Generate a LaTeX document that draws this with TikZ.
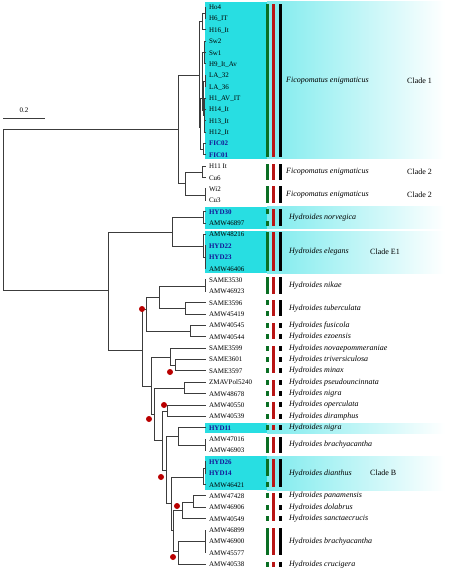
\documentclass[tikz,border=0pt]{standalone}
\usepackage{fontspec}
\setmainfont{Liberation Serif}
\usepackage{tikz}

\definecolor{hlcyan}{RGB}{40,222,226}
\definecolor{ourblue}{RGB}{20,20,150}
\definecolor{treegray}{RGB}{60,60,60}
\definecolor{trgreen}{RGB}{10,110,35}
\definecolor{trred}{RGB}{185,20,20}
\definecolor{dotred}{RGB}{185,0,0}

\newcommand{\ours}[1]{\textbf{\color{ourblue}#1}}
% trait bar: colour, x, first tip, last tip
\newcommand{\trait}[4]{\fill[#1] ({#2-1.5},{7+11.37*#3-2.5}) rectangle ({#2+1.5},{7+11.37*#4+2.5});}
% highlight band: top, bottom
\newcommand{\hlbox}[2]{\fill[hlcyan] (205,#1) rectangle (267,#2);
  \shade[left color=hlcyan!60, right color=white] (267,#1) rectangle (445,#2);}

\begin{document}
\begin{tikzpicture}[x=1pt, y=-1pt,
    branch/.style={treegray, line width=0.9pt},
    tiplab/.style={anchor=west, inner xsep=3pt, inner ysep=0pt, outer sep=0pt,
      text height=1.4ex, text depth=0.3ex, font=\fontsize{7}{8}\selectfont},
    spec/.style={anchor=west, inner sep=0pt, font=\fontsize{8}{9.6}\selectfont\itshape},
    cladelab/.style={anchor=west, inner sep=0pt, font=\fontsize{8}{9.6}\selectfont},
    sigdot/.style={circle, fill=dotred, inner sep=0pt, minimum size=6pt}]
  \useasboundingbox (0,0) rectangle (450,572);

  % Highlights
  \hlbox{2}{159}
  \hlbox{206.5}{228.5}
  \hlbox{231}{273}
  \hlbox{423}{433}
  \hlbox{456}{490}

  % Tips
  \foreach \lab [count=\i from 0] in {Ho4, H6\_IT, H16\_It, Sw2, Sw1, H9\_It\_Av,
      LA\_32, LA\_36, H1\_AV\_IT, H14\_It, H13\_It, H12\_It, \ours{FIC02}, \ours{FIC01},
      H11 It, Cu6, Wi2, Cu3, \ours{HYD30}, AMW46897, AMW48216, \ours{HYD22}, \ours{HYD23},
      AMW46406, SAME3530, AMW46923, SAME3596, AMW45419, AMW40545, AMW40544, SAME3599,
      SAME3601, SAME3597, ZMAVPol5240, AMW48678, AMW40550, AMW40539, \ours{HYD11},
      AMW47016, AMW46903, \ours{HYD26}, \ours{HYD14}, AMW46421, AMW47428, AMW46906,
      AMW40549, AMW46899, AMW46900, AMW45577, AMW40538}
    \node[tiplab] (t\i) at (206,{7+11.37*\i}) {\lab};

  % Inner nodes
  \coordinate (root) at (3,210);
  \coordinate (fico) at (178,129);
  \coordinate (c1) at (199,75);
  \coordinate (na) at (202,21);
  \coordinate (nab) at (205,13);
  \coordinate (nb) at (200,127);
  \coordinate (nc) at (202,98);
  \coordinate (nd) at (204,52);
  \coordinate (ne) at (203,110);
  \coordinate (nf) at (205,81);
  \coordinate (ng) at (204,115);
  \coordinate (fic) at (203,149);
  \coordinate (f2) at (185,183);
  \coordinate (f2a) at (202,172);
  \coordinate (f2b) at (205,195);
  \coordinate (hyd) at (108,290);
  \coordinate (nE) at (172,232);
  \coordinate (nor) at (203,217);
  \coordinate (el) at (203,246);
  \coordinate (elb) at (205,257);
  \coordinate (h1) at (142,350);
  \coordinate (ha) at (146,309);
  \coordinate (ha1) at (159,297);
  \coordinate (nik) at (205,286);
  \coordinate (tub) at (185,308);
  \coordinate (fe) at (190,331);
  \coordinate (hb) at (151,386);
  \coordinate (mi) at (170,357);
  \coordinate (mi2) at (175,365);
  \coordinate (hc) at (154,414);
  \coordinate (pn) at (184,388);
  \coordinate (hd) at (162,440);
  \coordinate (od) at (167,411);
  \coordinate (he) at (166,470);
  \coordinate (bra) at (178,436);
  \coordinate (bra2) at (205,445);
  \coordinate (hf) at (171,503);
  \coordinate (dia) at (203,477);
  \coordinate (dia2) at (205,468);
  \coordinate (hg) at (173,530);
  \coordinate (pds) at (182,510);
  \coordinate (pd) at (193,502);
  \coordinate (cr) at (178,551);
  \coordinate (br3) at (205,541);

  % Branches
  \foreach \p/\c in {root/fico, root/hyd, fico/c1, fico/f2, c1/na, c1/nb, na/nab, na/t2,
      nab/t0, nab/t1, nb/nc, nb/fic, nc/nd, nc/ne, nd/t3, nd/t4, nd/t5, ne/nf, ne/ng,
      nf/t6, nf/t7, ng/t8, ng/t9, ng/t10, ng/t11, fic/t12, fic/t13, f2/f2a, f2/f2b,
      f2a/t14, f2a/t15, f2b/t16, f2b/t17, hyd/nE, hyd/h1, nE/nor, nE/el, nor/t18, nor/t19,
      el/t20, el/elb, elb/t21, elb/t22, elb/t23, h1/ha, h1/hb, ha/ha1, ha/fe, ha1/nik,
      ha1/tub, nik/t24, nik/t25, tub/t26, tub/t27, fe/t28, fe/t29, hb/mi, hb/hc, mi/t30,
      mi/mi2, mi2/t31, mi2/t32, hc/pn, hc/hd, pn/t33, pn/t34, hd/od, hd/he, od/t35, od/t36,
      he/bra, he/hf, bra/t37, bra/bra2, bra2/t38, bra2/t39, hf/dia, hf/hg, dia/dia2,
      dia/t42, dia2/t40, dia2/t41, hg/pds, hg/cr, pds/pd, pds/t45, pd/t43, pd/t44,
      cr/br3, cr/t49, br3/t46, br3/t47, br3/t48}
    \draw[branch] (\p) |- (\c);

  % Supported nodes
  \node[sigdot] (s1) at (142,309) {};
  \node[sigdot] (s2) at (170,372) {};
  \node[sigdot] (s3) at (164,405) {};
  \node[sigdot] (s4) at (149,419) {};
  \node[sigdot] (s5) at (161,477) {};
  \node[sigdot] (s6) at (177,506) {};
  \node[sigdot] (s7) at (173,557) {};

  % Scale bar
  \coordinate (sb0) at (3,118);
  \coordinate (sb1) at (45,118);
  \draw[branch] (sb0) -- (sb1);
  \node[font=\fontsize{7}{8}\selectfont] (sblab) at (24,110) {0.2};

  % Trait bars
  \foreach \a/\b in {0/13, 14/15, 16/17, 20/23, 24/25, 38/39, 46/48}
    {\trait{trgreen}{267}{\a}{\b} \trait{trred}{273.5}{\a}{\b} \trait{black}{280}{\a}{\b}}
  \foreach \a/\b in {18/19, 26/27}
    {\trait{trred}{273.5}{\a}{\b} \trait{black}{280}{\a}{\b}}
  \foreach \a/\b in {28/29, 30/32, 33/34, 35/36, 37/37, 43/45, 49/49}
    {\trait{trred}{273.5}{\a}{\b}}
  \foreach \k in {18,19,26,27,28,29,30,31,32,33,34,35,36,37,42,43,44,45,49}
    {\trait{trgreen}{267}{\k}{\k}}
  \foreach \k in {28,29,30,31,32,33,34,35,36,37,43,44,45,49}
    {\trait{black}{280}{\k}{\k}}
  \trait{trgreen}{267}{40}{41}
  \trait{trred}{273.5}{40}{42}
  \trait{black}{280}{40}{42}

  % Species
  \node[spec] (sp1) at (286,81) {Ficopomatus enigmaticus};
  \node[spec] (sp2) at (286,172) {Ficopomatus enigmaticus};
  \node[spec] (sp3) at (286,194.6) {Ficopomatus enigmaticus};
  \node[spec] (sp4) at (289,217.4) {Hydroides norvegica};
  \node[spec] (sp5) at (289,251.5) {Hydroides elegans};
  \node[spec] (sp6) at (289,285.6) {Hydroides nikae};
  \node[spec] (sp7) at (289,308.3) {Hydroides tuberculata};
  \node[spec] (sp8) at (289,325.4) {Hydroides fusicola};
  \node[spec] (sp9) at (289,336.7) {Hydroides ezoensis};
  \node[spec] (sp10) at (289,348.1) {Hydroides novaepommeraniae};
  \node[spec] (sp11) at (289,359.5) {Hydroides triversiculosa};
  \node[spec] (sp12) at (289,370.8) {Hydroides minax};
  \node[spec] (sp13) at (289,382.2) {Hydroides pseudouncinnata};
  \node[spec] (sp14) at (289,393.6) {Hydroides nigra};
  \node[spec] (sp15) at (289,405) {Hydroides operculata};
  \node[spec] (sp16) at (289,416.3) {Hydroides diramphus};
  \node[spec] (sp17) at (289,427.7) {Hydroides nigra};
  \node[spec] (sp18) at (289,444.8) {Hydroides brachyacantha};
  \node[spec] (sp19) at (289,473.2) {Hydroides dianthus};
  \node[spec] (sp20) at (289,495.9) {Hydroides panamensis};
  \node[spec] (sp21) at (289,507.3) {Hydroides dolabrus};
  \node[spec] (sp22) at (289,518.7) {Hydroides sanctaecrucis};
  \node[spec] (sp23) at (289,541.4) {Hydroides brachyacantha};
  \node[spec] (sp24) at (289,564.1) {Hydroides crucigera};

  % Clades
  \node[cladelab] (cl1) at (407,81) {Clade 1};
  \node[cladelab] (cl2) at (407,172) {Clade 2};
  \node[cladelab] (cl3) at (407,194.6) {Clade 2};
  \node[cladelab] (cl4) at (370,251.5) {Clade E1};
  \node[cladelab] (cl5) at (370,473.2) {Clade B};
\end{tikzpicture}
\end{document}
